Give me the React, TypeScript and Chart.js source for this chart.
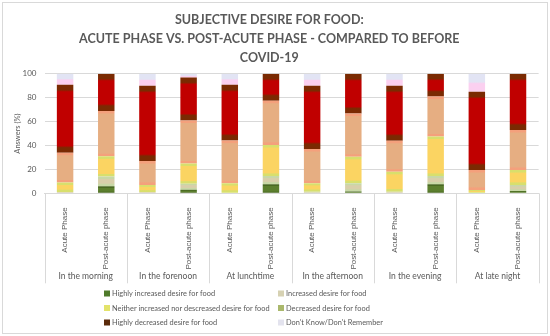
import React, { useEffect, useRef } from "react";
import { Chart, registerables } from "chart.js";

Chart.register(...registerables);

const titleLines = [
  "SUBJECTIVE DESIRE FOR FOOD:",
  "ACUTE PHASE VS. POST-ACUTE PHASE - COMPARED TO BEFORE",
  "COVID-19",
];
const phases = ["Acute Phase", "Post-acute phase"];
const timeGroups = [
  "In the morning",
  "In the forenoon",
  "At lunchtime",
  "In the afternoon",
  "In the evening",
  "At late night",
];
const barLabels = timeGroups.flatMap(() => phases);
const yTicks = [0, 20, 40, 60, 80, 100];

const seriesNames = [
  "Highly increased desire for food",
  "Increased desire for food",
  "Neither increased nor descreased desire for food",
  "Decreased desire for food",
  "Highly decreased desire for food",
  "Don't Know/Don't Remember",
];

const highlyIncreased = [0, 6, 0, 3, 0, 7.5, 0.4, 1.5, 0, 7.5, 0, 2];
const increased = [1, 8, 1, 5, 0.5, 7, 1, 7, 1.4, 7, 0.5, 5];
const neither = [8, 17, 6, 17, 8, 26, 7, 22, 16.6, 33, 2.3, 12.5];
const decreased = [25, 38, 20, 36, 35.6, 37, 28.7, 36.3, 26, 33.5, 16.7, 33.5];
const highlyDecreased = [56.8, 31, 63, 36, 46.7, 22.5, 52.9, 33.2, 46, 19, 65.5, 47];
const dontKnow = [9.2, 0, 10, 3, 9.2, 0, 10, 0, 10, 0, 15, 0];

const allSeries = [highlyIncreased, increased, neither, decreased, highlyDecreased, dontKnow];

// [edge, center] gradient colours for each series
const fillColors: [string, string][] = [
  ["#4a6a22", "#5c7f2e"],
  ["#c8d8a6", "#d8cfaa"],
  ["#d8df6c", "#fbd462"],
  ["#f4a07c", "#e6ae82"],
  ["#7a2a02", "#c00000"],
  ["#fbd0f0", "#e2e4f4"],
];
const edgeBands = [2, 3, 3, 3, 7, 0];
const legendColors = ["#4f7a2a", "#d6d1b2", "#e3e36a", "#aab86c", "#5a2a0a", "#e3e3ee"];

const TEXT = "#595959";
const GRID = "#d9d9d9";

function makeFill(d: number) {
  return (ctx: any) => {
    const [edge, center] = fillColors[d];
    if (ctx.type !== "data") return center;
    const chart = ctx.chart;
    const y = chart.scales && chart.scales.y;
    if (!y || !chart.chartArea) return center;
    const i = ctx.dataIndex;
    let base = 0;
    for (let k = 0; k < d; k++) base += allSeries[k][i];
    const top = base + allSeries[d][i];
    const y0 = y.getPixelForValue(top);
    const y1 = y.getPixelForValue(base);
    if (!(y1 - y0 > 0.5) || !isFinite(y0) || !isFinite(y1)) return center;
    const g = chart.ctx.createLinearGradient(0, y0, 0, y1);
    if (d === 5) {
      g.addColorStop(0, center);
      g.addColorStop(0.45, center);
      g.addColorStop(0.55, edge);
      g.addColorStop(1, edge);
    } else {
      const h = y1 - y0;
      const e = Math.min(0.3, edgeBands[d] / h);
      g.addColorStop(0, edge);
      g.addColorStop(e * 0.7, edge);
      g.addColorStop(e, center);
      g.addColorStop(1 - e, center);
      g.addColorStop(1 - e * 0.7, edge);
      g.addColorStop(1, edge);
    }
    return g;
  };
}

const decorPlugin = {
  id: "decor",
  afterDraw(chart: any) {
    const { ctx, chartArea } = chart;
    const x = chart.scales.x;
    const n = barLabels.length;
    const step = x.getPixelForValue(1) - x.getPixelForValue(0);
    ctx.save();
    // outer border
    ctx.strokeStyle = GRID;
    ctx.lineWidth = 1;
    ctx.strokeRect(2.5, 2.5, chart.width - 5, chart.height - 5);
    // group separators and labels
    const bottom = chartArea.bottom;
    for (let g = 0; g <= timeGroups.length; g++) {
      const idx = g * 2;
      let px: number;
      if (idx === 0) px = x.getPixelForValue(0) - step / 2;
      else if (idx >= n) px = x.getPixelForValue(n - 1) + step / 2;
      else px = (x.getPixelForValue(idx - 1) + x.getPixelForValue(idx)) / 2;
      px = Math.round(px) + 0.5;
      ctx.beginPath();
      ctx.moveTo(px, bottom);
      ctx.lineTo(px, bottom + 90);
      ctx.stroke();
    }
    ctx.fillStyle = TEXT;
    ctx.font = "8.5px Lato";
    ctx.textAlign = "center";
    ctx.textBaseline = "middle";
    timeGroups.forEach((label, g) => {
      const cx = (x.getPixelForValue(g * 2) + x.getPixelForValue(g * 2 + 1)) / 2;
      ctx.fillText(label, cx, bottom + 83);
    });
    // legend (two columns)
    ctx.font = "7.4px Lato";
    ctx.textAlign = "left";
    const colX = [104, 278];
    const rowY = [chart.height - 42.5, chart.height - 28, chart.height - 13.5];
    seriesNames.forEach((name, k) => {
      const cx = colX[k % 2];
      const cy = rowY[Math.floor(k / 2)];
      ctx.fillStyle = legendColors[k];
      ctx.fillRect(cx, cy - 3, 6, 6);
      ctx.fillStyle = TEXT;
      ctx.fillText(name, cx + 8, cy + 0.5);
    });
    ctx.restore();
  },
};

export default function App() {
  const ref = useRef<HTMLCanvasElement | null>(null);
  useEffect(() => {
    if (!ref.current) return;
    const chart = new Chart(ref.current, {
      type: "bar",
      data: {
        labels: barLabels,
        datasets: allSeries.map((values, d) => ({
          label: seriesNames[d],
          data: values,
          backgroundColor: makeFill(d),
          borderWidth: 0,
          barPercentage: 0.4,
          categoryPercentage: 1,
        })),
      },
      options: {
        responsive: false,
        animation: false,
        devicePixelRatio: 1,
        layout: { padding: { left: 0, right: 11.4, top: 0, bottom: 51 } },
        plugins: {
          legend: { display: false },
          tooltip: { enabled: false },
          title: {
            display: true,
            text: titleLines,
            color: TEXT,
            font: { family: "Lato", size: 12.5, weight: "bold", lineHeight: 1.5 },
            padding: { top: 11, bottom: 6.6 },
          },
        },
        scales: {
          x: {
            stacked: true,
            grid: { display: false },
            border: { display: true, color: GRID },
            ticks: {
              autoSkip: false,
              minRotation: 90,
              maxRotation: 90,
              padding: 6,
              color: TEXT,
              font: { family: "Liberation Sans", size: 8 },
            },
            afterFit: (scale: any) => {
              scale.height = 91.7;
            },
          },
          y: {
            stacked: true,
            min: 0,
            max: 100,
            afterBuildTicks: (scale: any) => {
              scale.ticks = yTicks.map((v) => ({ value: v }));
            },
            grid: { color: GRID, drawTicks: false },
            border: { display: false },
            ticks: {
              padding: 8,
              color: TEXT,
              font: { family: "Lato", size: 8 },
            },
            title: {
              display: true,
              text: "Answers (%)",
              color: TEXT,
              font: { family: "Lato", size: 7.5 },
              padding: { top: 13, bottom: 0 },
            },
            afterFit: (scale: any) => {
              scale.width = 44.5;
            },
          },
        },
      },
      plugins: [decorPlugin],
    });
    return () => chart.destroy();
  }, []);
  return (
    <div style={{ position: "fixed", left: 0, top: 0, width: 550, height: 336, background: "#fff" }}>
      <canvas ref={ref} width={550} height={336} style={{ display: "block" }} />
    </div>
  );
}
